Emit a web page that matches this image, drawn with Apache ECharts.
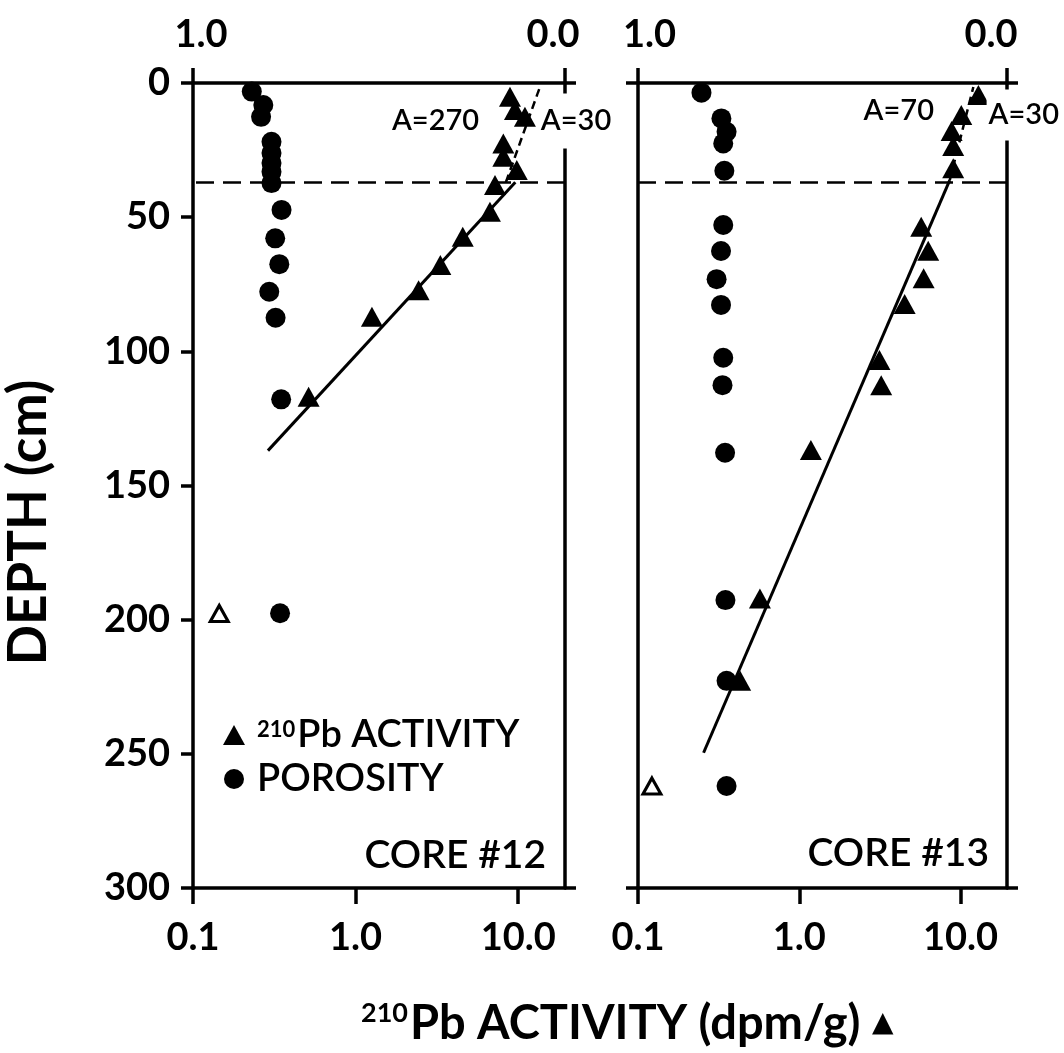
<!DOCTYPE html>
<html><head><meta charset="utf-8">
<script src="https://cdn.jsdelivr.net/npm/echarts@6/dist/echarts.min.js"></script>
<style>html,body{margin:0;padding:0;background:#fff}#c{width:1064px;height:1053px}</style>
</head><body><div id="c"></div>
<script>
// ---------- DATA ----------
const depthTicks = [0, 300];            // depth axis range (cm)
const activityRange = [0.1, 19.4];      // 210Pb activity axis range (dpm/g)
const porosityRange = [0, 1];           // porosity axis range
const mixedLayerDepth = [37, 37];       // dashed line depth, core 12 / core 13

// Core 12
const core12PorosityDepth = [3.2, 8.2, 12.6, 21.9, 26.1, 29.8, 33.1, 37.3, 47.3, 57.9, 67.5, 77.8, 87.5, 117.9, 197.6];
const core12Porosity      = [0.842, 0.811, 0.817, 0.789, 0.789, 0.789, 0.789, 0.789, 0.762, 0.779, 0.768, 0.795, 0.778, 0.763, 0.766];
const core12ActivityDepth = [5.1, 10.1, 12.6, 22.5, 27.5, 32.4, 38.0, 48.0, 57.3, 67.8, 77.2, 87.1, 116.9];
const core12Activity      = [8.9, 9.55, 11.0, 8.1, 8.1, 9.8, 7.2, 6.7, 4.56, 3.32, 2.44, 1.26, 0.514];
const core12OpenDepth     = [197.7];
const core12OpenActivity  = [0.145];
const core12FitDepth      = [137, 37];
const core12FitActivity   = [0.289, 9.6];
const core12UpperDepth    = [37, 1.5];
const core12UpperActivity = [8.4, 13.6];
const core12Labels        = ['A=270', 'A=30'];
const core12LabelActivity = [3.1, 13.4];
const core12LabelDepth    = [14.2, 14.2];

// Core 13
const core13PorosityDepth = [3.6, 13.2, 18.2, 22.5, 32.7, 52.9, 62.6, 73.1, 82.7, 102.4, 112.6, 137.8, 192.7, 222.8, 262.0];
const core13Porosity      = [0.828, 0.774, 0.760, 0.769, 0.766, 0.769, 0.775, 0.787, 0.775, 0.769, 0.771, 0.764, 0.763, 0.760, 0.760];
const core13ActivityDepth = [4.5, 11.9, 17.9, 23.5, 31.8, 53.6, 62.5, 72.8, 82.4, 103.2, 112.6, 136.8, 192.1, 222.8];
const core13Activity      = [12.9, 10.1, 8.8, 9.0, 9.0, 5.7, 6.3, 5.9, 4.5, 3.14, 3.22, 1.18, 0.57, 0.43];
const core13OpenDepth     = [262.0];
const core13OpenActivity  = [0.122];
const core13FitDepth      = [249.6, 36.2];
const core13FitActivity   = [0.255, 8.57];
const core13UpperDepth    = [36.2, 1.5];
const core13UpperActivity = [8.57, 12.0];
const core13Labels        = ['A=70', 'A=30'];
const core13LabelActivity = [4.14, 14.5];
const core13LabelDepth    = [10.4, 11.9];

// ---------- CHART ----------
const FONT = 'Lato';
const BLACK = '#000';
const zip = (xs, ys) => xs.map((x, i) => [x, ys[i]]);
const AXW = 3.5;
const axisLine = { show: true, onZero: false, lineStyle: { color: BLACK, width: AXW } };

function bottomAxis(gi) {
  return {
    type: 'log', gridIndex: gi, position: 'bottom', logBase: 10, min: activityRange[0], max: activityRange[1],
    axisLine: axisLine,
    axisTick: { show: true, inside: false, length: 16, lineStyle: { color: BLACK, width: AXW } },
    axisLabel: { showMaxLabel: false, margin: 31, color: BLACK, fontSize: 38, fontWeight: 'bold', fontFamily: FONT,
      formatter: v => (v < 0.5 ? '0.1' : Number(v).toFixed(1)) },
    splitLine: { show: false }, minorTick: { show: false }
  };
}
function topAxis(gi, padL, padR) {
  return {
    type: 'value', gridIndex: gi, position: 'top', min: porosityRange[0], max: porosityRange[1], interval: 1, inverse: true,
    axisLine: axisLine,
    axisTick: { show: true, length: 15, lineStyle: { color: BLACK, width: AXW } },
    axisLabel: { margin: 29, color: BLACK, fontSize: 38, fontWeight: 'bold', fontFamily: FONT,
      formatter: v => (v > 0.5 ? '{l|' + Number(v).toFixed(1) + '}' : '{r|' + Number(v).toFixed(1) + '}'),
      rich: {
        l: { fontSize: 38, fontWeight: 'bold', fontFamily: FONT, color: BLACK, padding: [0, 0, 0, padL] },
        r: { fontSize: 38, fontWeight: 'bold', fontFamily: FONT, color: BLACK, padding: [0, padR, 0, 0] }
      } },
    splitLine: { show: false }
  };
}
function depthAxis(gi, withLabels) {
  return {
    type: 'value', gridIndex: gi, position: 'left', inverse: true, min: depthTicks[0], max: depthTicks[1],
    interval: withLabels ? 50 : 300,
    name: withLabels ? 'DEPTH (cm)' : '', nameLocation: 'middle', nameGap: 138, nameRotate: 90,
    nameTextStyle: { color: BLACK, fontSize: 53, fontWeight: 'bold', fontFamily: FONT, padding: [0, 74, 0, 0] },
    axisLine: axisLine,
    axisTick: { show: true, length: 12, lineStyle: { color: BLACK, width: AXW } },
    axisLabel: { show: withLabels, margin: 23, color: BLACK, fontSize: 38, fontWeight: 'bold', fontFamily: FONT },
    splitLine: { show: false }
  };
}
function borderAxis(gi) {
  return {
    type: 'value', gridIndex: gi, position: 'right', inverse: true, min: depthTicks[0], max: depthTicks[1], interval: 300,
    axisLine: axisLine,
    axisTick: { show: true, length: 11, lineStyle: { color: BLACK, width: AXW } },
    axisLabel: { show: false }, splitLine: { show: false }
  };
}

function panelSeries(idx, d) {
  const xa = idx * 2, xp = idx * 2 + 1, ya = idx * 2;
  const labelStyle = { color: BLACK, fontSize: 29, fontWeight: 600, fontFamily: FONT, opacity: 1 };
  return [
    { name: 'por' + d.core, type: 'scatter', xAxisIndex: xp, yAxisIndex: ya, symbol: 'circle', symbolSize: 20,
      itemStyle: { color: BLACK, opacity: 1 }, data: zip(d.por, d.porDepth), z: 3,
      markLine: { symbol: 'none', silent: true, label: { show: false },
        lineStyle: { color: BLACK, width: 2.5, type: [18, 9], opacity: 1 }, data: [{ yAxis: d.mld }] } },
    { name: 'act' + d.core, type: 'scatter', xAxisIndex: xa, yAxisIndex: ya, symbol: 'triangle', symbolSize: [22, 20],
      itemStyle: { color: BLACK, opacity: 1 }, data: zip(d.act, d.actDepth), z: 4 },
    { name: 'open' + d.core, type: 'scatter', xAxisIndex: xa, yAxisIndex: ya, symbol: 'triangle', symbolSize: [18, 16],
      itemStyle: { color: '#fff', borderColor: BLACK, borderWidth: 3, opacity: 1 }, data: zip(d.openAct, d.openDepth), z: 4 },
    { name: 'fit' + d.core, type: 'line', xAxisIndex: xa, yAxisIndex: ya, showSymbol: false, symbol: 'none',
      lineStyle: { color: BLACK, width: 3 }, data: zip(d.fitAct, d.fitDepth), z: 2 },
    { name: 'upper' + d.core, type: 'line', xAxisIndex: xa, yAxisIndex: ya, showSymbol: false, symbol: 'none',
      lineStyle: { color: BLACK, width: 2.5, type: [8, 5] }, data: zip(d.upAct, d.upDepth), z: 2 },
    { name: 'lab' + d.core, type: 'scatter', xAxisIndex: xa, yAxisIndex: ya, symbolSize: 0, silent: true, z: 10,
      itemStyle: { opacity: 1 },
      data: d.labels.map((t, i) => ({
        value: [d.labAct[i], d.labDepth[i]],
        label: i === 0
          ? Object.assign({ show: true, position: 'inside', formatter: t }, labelStyle)
          : Object.assign({ show: true, position: 'right', distance: 0, formatter: t, backgroundColor: '#fff', padding: d.bgPad }, labelStyle)
      })) }
  ];
}

const option = {
  animation: false,
  backgroundColor: '#fff',
  grid: [
    { left: 193, top: 83, width: 372, height: 805 },
    { left: 638, top: 83, width: 369, height: 805 }
  ],
  xAxis: [bottomAxis(0), topAxis(0, 16, 24), bottomAxis(1), topAxis(1, 23, 32)],
  yAxis: [depthAxis(0, true), borderAxis(0), depthAxis(1, false), borderAxis(1)],
  title: [
    { text: '{sup|210}{m|Pb ACTIVITY (dpm/g) }{tri|▲}', left: 356, top: 995,
      textStyle: { rich: {
        sup: { fontSize: 27, fontWeight: 'bold', fontFamily: FONT, color: BLACK, verticalAlign: 'top', padding: [0, 2, 0, 0] },
        m: { fontSize: 47, fontWeight: 'bold', fontFamily: FONT, color: BLACK },
        tri: { fontSize: 28, fontFamily: 'DejaVu Sans', color: BLACK }
      } } },
    { text: 'CORE #12', right: 513, top: 831, textStyle: { fontSize: 39, fontWeight: 600, fontFamily: FONT, color: BLACK } },
    { text: 'CORE #13', right: 70, top: 829, textStyle: { fontSize: 39, fontWeight: 600, fontFamily: FONT, color: BLACK } }
  ],
  legend: {
    left: 218, top: 711, orient: 'vertical', itemWidth: 22, itemHeight: 20, itemGap: 6, selectedMode: false,
    data: [{ name: 'act12', icon: 'triangle' }, { name: 'por12', icon: 'circle' }],
    itemStyle: { opacity: 1 },
    formatter: n => (n === 'act12' ? '{sup|210}{t|Pb ACTIVITY}' : '{p|POROSITY}'),
    textStyle: { color: BLACK, fontFamily: FONT, fontSize: 38, rich: {
      sup: { fontSize: 22, fontWeight: 'bold', fontFamily: FONT, color: BLACK, verticalAlign: 'top', padding: [0, 2, 0, 7], lineHeight: 32 },
      t: { fontSize: 38, fontWeight: 600, fontFamily: FONT, color: BLACK, lineHeight: 32 },
      p: { fontSize: 38, fontWeight: 600, fontFamily: FONT, color: BLACK, padding: [0, 0, 0, 7], lineHeight: 32 }
    } }
  },
  series: [
    ...panelSeries(0, { core: 12, por: core12Porosity, porDepth: core12PorosityDepth, act: core12Activity, actDepth: core12ActivityDepth,
      openAct: core12OpenActivity, openDepth: core12OpenDepth, fitAct: core12FitActivity, fitDepth: core12FitDepth,
      upAct: core12UpperActivity, upDepth: core12UpperDepth, labels: core12Labels, labAct: core12LabelActivity, labDepth: core12LabelDepth,
      mld: mixedLayerDepth[0], bgPad: [8, 2, 18, 2] }),
    ...panelSeries(1, { core: 13, por: core13Porosity, porDepth: core13PorosityDepth, act: core13Activity, actDepth: core13ActivityDepth,
      openAct: core13OpenActivity, openDepth: core13OpenDepth, fitAct: core13FitActivity, fitDepth: core13FitDepth,
      upAct: core13UpperActivity, upDepth: core13UpperDepth, labels: core13Labels, labAct: core13LabelActivity, labDepth: core13LabelDepth,
      mld: mixedLayerDepth[1], bgPad: [10, 2, 12, 2] })
  ]
};
const chart = echarts.init(document.getElementById('c'), null, { renderer: 'canvas' });
chart.setOption(option);
</script>
</body></html>
